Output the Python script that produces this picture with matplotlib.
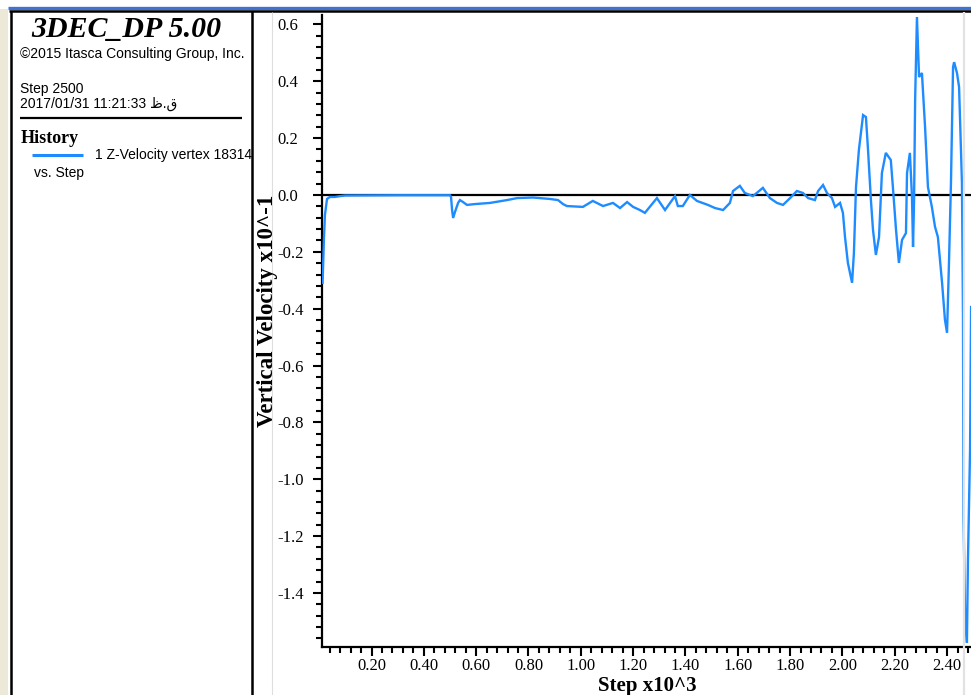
import numpy as np
import matplotlib
matplotlib.use("Agg")
import matplotlib.pyplot as plt
from matplotlib.lines import Line2D
from matplotlib.patches import Rectangle
from matplotlib.ticker import MultipleLocator, FormatStrFormatter

# History record: Z-velocity of vertex 18314 against calculation step
steps = [13, 18, 22, 30, 41, 60, 80, 99, 309, 500, 504, 508, 512, 519, 531, 538,
         550, 565, 596, 653, 718, 756, 817, 882, 913, 932, 947, 1008, 1046, 1085,
         1123, 1150, 1177, 1200, 1226, 1245, 1291, 1322, 1360, 1371, 1390, 1417,
         1444, 1486, 1513, 1544, 1570, 1582, 1608, 1627, 1658, 1696, 1723, 1750,
         1773, 1800, 1826, 1849, 1869, 1895, 1907, 1926, 1941, 1960, 1972, 1991,
         2002, 2010, 2021, 2037, 2044, 2052, 2063, 2079, 2090, 2098, 2109, 2117,
         2128, 2140, 2151, 2166, 2185, 2193, 2205, 2216, 2228, 2243, 2247, 2258,
         2266, 2270, 2274, 2278, 2285, 2293, 2304, 2316, 2327, 2342, 2354, 2365,
         2381, 2392, 2400, 2407, 2415, 2423, 2427, 2438, 2446, 2457, 2461, 2463,
         2469, 2476, 2480, 2488, 2492]
z_velocity = [-0.309, -0.158, -0.070, -0.014, -0.007, -0.007, -0.004, -0.002,
              -0.001, -0.001, -0.007, -0.053, -0.081, -0.060, -0.028, -0.018,
              -0.025, -0.035, -0.032, -0.028, -0.018, -0.011, -0.009, -0.014,
              -0.018, -0.032, -0.039, -0.042, -0.021, -0.039, -0.028, -0.046,
              -0.025, -0.042, -0.053, -0.063, -0.011, -0.053, -0.004, -0.039,
              -0.039, 0.000, -0.021, -0.035, -0.046, -0.053, -0.028, 0.014,
              0.032, 0.007, -0.004, 0.025, -0.011, -0.028, -0.035, -0.011,
              0.014, 0.007, -0.011, -0.018, 0.014, 0.035, 0.007, -0.011,
              -0.042, -0.028, -0.063, -0.148, -0.239, -0.309, -0.204, 0.028,
              0.158, 0.281, 0.274, 0.158, -0.018, -0.123, -0.211, -0.148,
              0.077, 0.148, 0.123, 0.028, -0.123, -0.239, -0.158, -0.134,
              0.077, 0.148, -0.007, -0.183, -0.018, 0.334, 0.626, 0.415,
              0.429, 0.239, 0.028, -0.042, -0.112, -0.148, -0.309, -0.439,
              -0.485, -0.253, 0.042, 0.450, 0.467, 0.429, 0.380, 0.042,
              -0.429, -1.132, -1.483, -1.575, -1.283, -0.896, -0.394]

x_limits = (0.01, 2.50)      # steps x10^3
y_limits = (-1.59, 0.633)    # velocity x10^-1

title_text = "3DEC_DP 5.00"
copyright_text = "\u00a92015 Itasca Consulting Group, Inc."
step_text = "Step 2500"
date_text = "2017/01/31 11:21:33 \u0638.\u0642"
history_text = "History"
series_text = "1 Z-Velocity vertex 18314"
versus_text = "vs. Step"
x_label = "Step x10^3"
y_label = "Vertical Velocity x10^-1"

plt.rcParams["axes.unicode_minus"] = False

W, H = 971, 695
fig = plt.figure(figsize=(W / 100, H / 100), dpi=100)
fig.patch.set_facecolor("white")


def fx(px):
    return px / W


def fy(py):
    return 1 - py / H


def hline(x0, x1, y, color="black", lw=1.5):
    fig.add_artist(Line2D([fx(x0), fx(x1)], [fy(y), fy(y)], color=color,
                          lw=lw, transform=fig.transFigure, solid_capstyle="butt"))


def vline(x, y0, y1, color="black", lw=1.5):
    fig.add_artist(Line2D([fx(x), fx(x)], [fy(y0), fy(y1)], color=color,
                          lw=lw, transform=fig.transFigure, solid_capstyle="butt"))


# window frame
fig.add_artist(Rectangle((0, 0), fx(8), fy(9), transform=fig.transFigure,
                         facecolor="#ece9d8", edgecolor="none"))
hline(8, 971, 7.5, color="#3f72d2", lw=2.4)
hline(9, 971, 11, lw=1.8)
vline(10.5, 11, 695, lw=1.8)
vline(252, 11, 695, lw=1.8)
vline(272, 12, 695, color="#dedede", lw=0.8)
vline(963.5, 12, 695, color="#e2e2e2", lw=1.6)

# plot area
ax = fig.add_axes([fx(321.8), fy(647), (973.2 - 321.8) / W, (647 - 15) / H])
ax.set_facecolor("none")
ax.axhline(0, color="black", lw=1.6, zorder=2)
ax.plot(np.array(steps) / 1000.0, z_velocity, color="#1e8cff", lw=1.7,
        zorder=3, solid_joinstyle="miter")
ax.set_xlim(*x_limits)
ax.set_ylim(*y_limits)

for side in ("top", "right"):
    ax.spines[side].set_visible(False)
for side in ("left", "bottom"):
    ax.spines[side].set_linewidth(1.6)
    ax.spines[side].set_color("black")

ax.xaxis.set_major_locator(MultipleLocator(0.2))
ax.xaxis.set_minor_locator(MultipleLocator(0.04))
ax.yaxis.set_major_locator(MultipleLocator(0.2))
ax.yaxis.set_minor_locator(MultipleLocator(0.04))
ax.xaxis.set_major_formatter(FormatStrFormatter("%.2f"))
ax.yaxis.set_major_formatter(FormatStrFormatter("%.1f"))

ax.tick_params(axis="both", which="major", direction="out", length=6.3,
               width=1.5, color="black")
ax.tick_params(axis="both", which="minor", direction="out", length=4.0,
               width=1.5, color="black")
ax.tick_params(axis="x", which="major", pad=1.5)
# y labels are left-aligned in a column starting at x ~ 277 px
ax.tick_params(axis="y", which="major", pad=(322 - 9 - 277) * 0.72)
for lab in ax.get_xticklabels() + ax.get_yticklabels():
    lab.set_fontfamily("Liberation Serif")
    lab.set_fontsize(12)
for lab in ax.get_yticklabels():
    lab.set_horizontalalignment("left")

# axis titles
fig.text(fx(647), fy(691), x_label, ha="center", va="baseline",
         family="Liberation Serif", weight="bold", fontsize=15)
fig.text(fx(267), fy(311), y_label, ha="center", va="center", rotation=90,
         family="Liberation Serif", weight="bold", fontsize=16.5,
         rotation_mode="anchor")

# information panel
sans = ["Liberation Sans", "DejaVu Sans"]
fig.text(fx(31), fy(37), title_text, ha="left", va="baseline",
         family="Liberation Serif", weight="bold", style="italic", fontsize=21.5)
fig.text(fx(20), fy(58), copyright_text, ha="left", va="baseline",
         family=sans, fontsize=10)
fig.text(fx(20), fy(93), step_text, ha="left", va="baseline",
         family=sans, fontsize=10)
fig.text(fx(20), fy(107.5), date_text, ha="left", va="baseline",
         family=sans, fontsize=10)
hline(20, 242, 118, lw=1.6)
fig.text(fx(21), fy(143), history_text, ha="left", va="baseline",
         family="Liberation Serif", weight="bold", fontsize=13)
hline(32, 83, 154.5, color="#1e8cff", lw=2.2)
fig.text(fx(95), fy(159.5), series_text, ha="left", va="baseline",
         family=sans, fontsize=10)
fig.text(fx(34), fy(177), versus_text, ha="left", va="baseline",
         family=sans, fontsize=10)

fig.savefig("out.png", dpi=100)
